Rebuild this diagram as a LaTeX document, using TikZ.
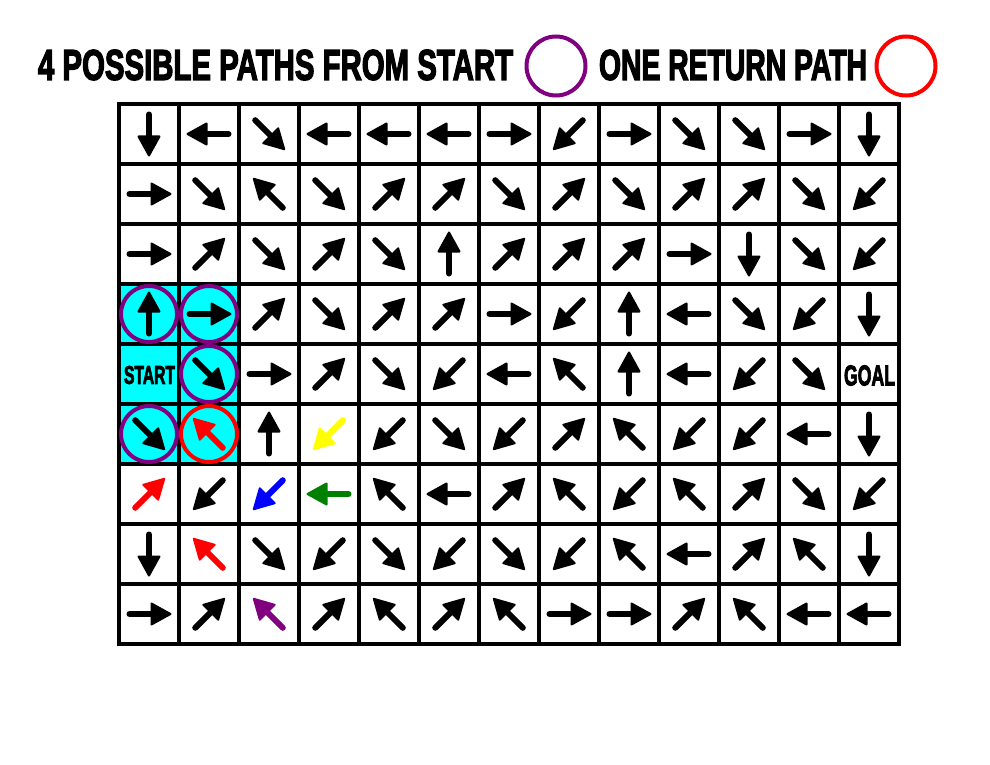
\documentclass[tikz,border=0pt]{standalone}
\usepackage{fontspec}
\usepackage{graphicx}
\newfontfamily\heavy{Liberation Sans}[BoldFeatures={FakeBold=3.5}]
\definecolor{pathpurple}{HTML}{800080}
\definecolor{pathgreen}{HTML}{008000}
\definecolor{pathcyan}{HTML}{00FFFF}
\definecolor{pathred}{HTML}{FF0000}
\definecolor{pathblue}{HTML}{0000FF}
\definecolor{pathyellow}{HTML}{FFFF00}
\colorlet{k}{black}
\tikzset{
  arw/.pic={
    \draw[line width=6pt,line cap=round] (-19.5,0) -- (4,0);
    \filldraw[line width=2pt,line join=round] (21.5,0) -- (2.5,-10.5) -- (2.5,10.5) -- cycle;
  },
  cell/.style={draw=black,line width=4pt,minimum size=60pt,inner sep=0pt,outer sep=0pt},
  ring/.style={circle,draw=#1,line width=4pt,minimum size=56pt,inner sep=0pt},
  legendring/.style={circle,draw=#1,line width=4pt,minimum size=59pt,inner sep=0pt},
  title/.style={anchor=west,inner sep=0pt,outer sep=0pt},
  celltext/.style={inner sep=0pt,outer sep=0pt}
}
\begin{document}
\begin{tikzpicture}[x=1pt,y=-1pt]
\useasboundingbox[fill=white] (0,0) rectangle (990,765);
% title
\node[title] (t1) at (38,65) {\resizebox{475pt}{30pt}{\heavy\bfseries 4 POSSIBLE PATHS FROM START}};
\node[legendring=pathpurple] (lp) at (556,66) {};
\node[title] (t2) at (599,65) {\resizebox{268pt}{30pt}{\heavy\bfseries ONE RETURN PATH}};
\node[legendring=pathred] (lr) at (906,66) {};
% cyan area
\fill[pathcyan] (119,284) rectangle (239,464);
% cells
\foreach \r in {0,...,8}{
  \foreach \c in {0,...,12}{
    \node[cell] (c\r-\c) at ({149+60*\c},{134+60*\r}) {};
  }
}
% rings
\node[ring=pathpurple] (p1) at (c3-0) {};
\node[ring=pathpurple] (p2) at (c3-1) {};
\node[ring=pathpurple] (p3) at (c4-1) {};
\node[ring=pathpurple] (p4) at (c5-0) {};
\node[ring=pathred] (p5) at (c5-1) {};
% arrows
\foreach \rowlist [count=\r from 0] in {%
 {270/k,180/k,315/k,180/k,180/k,180/k,0/k,225/k,0/k,315/k,315/k,0/k,270/k},%
 {0/k,315/k,135/k,315/k,45/k,45/k,315/k,45/k,315/k,45/k,45/k,315/k,225/k},%
 {0/k,45/k,315/k,45/k,315/k,90/k,45/k,45/k,45/k,0/k,270/k,315/k,225/k},%
 {90/k,0/k,45/k,315/k,45/k,45/k,0/k,225/k,90/k,180/k,315/k,225/k,270/k},%
 {999/k,315/k,0/k,45/k,315/k,225/k,180/k,135/k,90/k,180/k,225/k,315/k,999/k},%
 {315/k,135/pathred,90/k,225/pathyellow,225/k,315/k,225/k,45/k,135/k,225/k,225/k,180/k,270/k},%
 {45/pathred,225/k,225/pathblue,180/pathgreen,135/k,180/k,45/k,135/k,225/k,135/k,45/k,315/k,225/k},%
 {270/k,135/pathred,315/k,225/k,315/k,225/k,315/k,225/k,135/k,180/k,45/k,135/k,270/k},%
 {0/k,45/k,135/pathpurple,45/k,135/k,45/k,135/k,0/k,0/k,45/k,135/k,180/k,180/k}%
}{%
  \foreach \a/\col [count=\c from 0] in \rowlist {%
    \ifnum\a<999
      \pic[rotate=\a,color=\col] at (c\r-\c) {arw};
    \fi
  }%
}
% labels
\node[celltext] (start) at (149.5,375) {\resizebox{51pt}{18pt}{\heavy\bfseries START}};
\node[celltext] (goal) at (869.5,375.5) {\resizebox{51pt}{20pt}{\heavy\bfseries GOAL}};
\end{tikzpicture}
\end{document}
